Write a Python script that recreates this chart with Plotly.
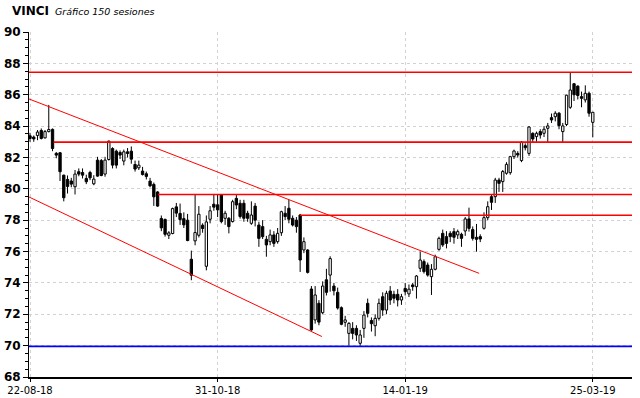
import plotly.graph_objects as go

# ---------------- data ----------------
x_tick_idx = [0, 50, 100, 150]
x_tick_text = ["22-08-18", "31-10-18", "14-01-19", "25-03-19"]
y_ticks = list(range(68, 91, 2))

opens = [83.38, 83.30, 83.40, 83.72, 83.25, 83.65, 83.79, 82.26, 82.30, 80.87,
         80.60, 80.50, 80.13, 81.09, 81.04, 80.66, 81.04, 80.32, 81.83, 81.80,
         80.94, 81.87, 82.57, 82.40, 82.32, 81.77, 82.36, 82.40, 81.55, 81.34,
         81.13, 80.96, 80.49, 80.28, 79.80, 78.11, 78.05, 77.04, 77.15, 78.85,
         78.43, 78.10, 78.00, 75.51, 76.68, 77.04, 77.68, 75.06, 78.06, 79.02,
         78.98, 79.61, 78.12, 78.12, 77.91, 79.39, 79.08, 79.08, 78.44, 77.80,
         78.90, 77.69, 77.59, 76.78, 76.63, 77.06, 76.63, 77.20, 78.44, 78.76,
         78.12, 78.00, 78.33, 76.10, 76.10, 73.61, 71.64, 72.70, 72.10, 74.20,
         74.50, 73.80, 73.40, 72.42, 71.49, 70.78, 71.10, 71.10, 70.15, 71.10,
         72.70, 71.60, 71.27, 71.74, 73.12, 72.27, 73.48, 73.27, 73.27, 72.91,
         73.65, 73.30, 73.87, 73.76, 74.93, 75.36, 75.14, 74.40, 74.87, 76.14,
         77.16, 76.95, 77.16, 77.27, 77.06, 77.10, 77.31, 78.08, 77.40, 76.91,
         76.95, 77.48, 78.16, 79.50, 79.50, 80.56, 80.46, 80.99, 81.03, 82.05,
         82.26, 81.80, 82.75, 82.26, 83.54, 83.33, 83.65, 83.54, 83.86, 84.54,
         84.60, 84.82, 83.65, 84.10, 85.20, 86.70, 86.55, 85.88, 85.67, 86.09,
         84.24]
highs = [83.57, 83.40, 83.75, 83.85, 83.75, 85.35, 83.85, 82.35, 82.35, 80.90,
         80.85, 80.70, 81.20, 81.30, 81.30, 80.90, 81.15, 80.87, 82.04, 81.90,
         82.04, 83.08, 82.65, 82.50, 82.45, 82.50, 82.60, 82.70, 81.80, 81.80,
         81.40, 81.10, 80.70, 80.40, 79.85, 78.30, 78.10, 77.30, 78.80, 79.10,
         79.06, 78.50, 78.40, 76.06, 79.64, 78.90, 77.80, 78.30, 78.90, 79.66,
         79.66, 79.66, 78.60, 78.20, 79.30, 79.60, 79.30, 79.30, 78.60, 79.20,
         79.10, 77.90, 78.00, 77.00, 77.40, 77.30, 77.50, 78.60, 78.90, 79.30,
         78.30, 78.20, 78.40, 76.90, 76.15, 73.80, 73.80, 72.90, 74.10, 74.90,
         75.70, 74.00, 73.70, 72.50, 71.90, 71.50, 71.50, 71.30, 71.00, 72.20,
         73.00, 71.80, 72.00, 73.00, 73.40, 73.50, 73.80, 73.50, 73.60, 73.30,
         74.00, 73.90, 74.00, 74.50, 76.00, 75.50, 75.30, 75.20, 75.80, 76.95,
         77.40, 77.30, 77.30, 77.50, 77.40, 77.20, 78.20, 78.80, 77.60, 77.76,
         77.10, 78.50, 79.20, 79.61, 80.70, 80.70, 81.20, 81.70, 82.10, 82.50,
         82.40, 83.05, 82.90, 84.00, 83.60, 83.65, 83.80, 84.00, 84.20, 84.80,
         84.95, 84.90, 84.20, 86.00, 87.43, 86.75, 86.60, 86.20, 86.60, 86.20,
         84.90]
lows = [83.00, 83.00, 83.10, 83.15, 83.20, 83.60, 82.40, 81.95, 80.50, 79.20,
        79.70, 80.10, 79.64, 80.80, 80.66, 80.30, 80.55, 80.23, 80.77, 80.80,
        80.77, 81.80, 81.30, 81.30, 81.90, 81.50, 82.00, 81.60, 81.10, 81.20,
        80.85, 80.60, 80.10, 78.91, 78.85, 77.30, 76.95, 76.80, 77.10, 78.20,
        77.70, 77.50, 76.66, 74.17, 76.40, 76.90, 77.20, 74.80, 77.80, 78.60,
        78.20, 77.80, 77.70, 77.16, 77.85, 78.70, 78.10, 77.90, 77.90, 77.70,
        77.60, 76.30, 76.80, 75.67, 76.40, 76.30, 76.50, 77.00, 78.00, 77.80,
        77.60, 77.20, 74.70, 75.90, 74.60, 70.95, 71.40, 71.30, 72.00, 73.20,
        73.44, 73.20, 72.30, 71.30, 71.20, 70.00, 70.40, 70.30, 70.00, 70.50,
        71.80, 70.90, 70.60, 71.60, 71.90, 72.00, 72.60, 72.70, 72.50, 72.60,
        73.20, 73.10, 73.50, 73.00, 74.70, 74.60, 74.40, 73.23, 74.80, 76.05,
        76.30, 76.20, 76.60, 76.50, 76.80, 76.30, 77.00, 77.27, 76.70, 75.99,
        76.60, 77.40, 78.00, 78.65, 79.10, 79.80, 79.80, 80.90, 80.90, 81.90,
        82.00, 81.70, 82.45, 82.10, 82.97, 83.00, 83.20, 83.30, 82.97, 84.20,
        84.30, 83.80, 82.97, 84.00, 85.10, 85.60, 85.70, 85.20, 85.50, 84.60,
        83.28]
closes = [83.21, 83.18, 83.62, 83.21, 83.65, 83.78, 82.57, 82.15, 81.09, 79.43,
          80.15, 80.30, 80.94, 80.94, 80.87, 80.45, 80.70, 80.62, 80.81, 80.85,
          81.83, 83.04, 81.51, 81.51, 82.15, 82.36, 82.25, 81.89, 81.26, 81.51,
          80.91, 80.79, 80.19, 79.49, 78.90, 77.51, 77.10, 77.19, 78.74, 78.45,
          78.04, 77.70, 76.70, 74.49, 77.21, 78.38, 77.47, 77.89, 78.60, 78.83,
          78.66, 77.91, 78.44, 77.59, 79.18, 78.97, 78.23, 78.12, 78.12, 78.33,
          78.00, 76.84, 76.95, 76.42, 77.06, 76.52, 77.16, 78.54, 78.23, 78.06,
          77.69, 77.59, 75.46, 76.63, 74.67, 71.00, 73.23, 71.50, 73.80, 73.40,
          75.55, 73.50, 72.40, 71.36, 71.64, 71.42, 70.78, 70.68, 70.68, 71.95,
          72.06, 71.40, 71.74, 72.70, 72.27, 73.34, 72.91, 73.02, 72.91, 73.12,
          73.44, 73.60, 73.76, 74.44, 75.46, 74.72, 74.50, 74.87, 75.67, 76.84,
          76.42, 76.52, 76.95, 76.91, 77.27, 76.84, 78.08, 77.48, 76.84, 76.78,
          76.80, 78.16, 78.86, 79.14, 80.56, 80.35, 81.10, 81.56, 82.05, 82.41,
          82.16, 82.97, 82.62, 83.94, 83.18, 83.54, 83.43, 83.80, 84.01, 84.39,
          84.82, 84.03, 84.01, 85.97, 86.30, 86.00, 85.95, 85.77, 86.09, 84.82,
          84.88]

# horizontal levels (value, first session where the line starts)
red_levels = [87.43, 82.98, 79.64, 78.31]
red_level_start = [-0.27, 6.3, 34.1, 72.0]
blue_level = 69.95
# channel lines (session, value)
upper_trend_x = [-0.27, 119.7]
upper_trend_y = [85.73, 74.61]
lower_trend_x = [-0.27, 77.8]
lower_trend_y = [79.48, 70.58]

X_MIN, X_MAX = -0.27, 160.45

# ---------------- figure ----------------
idx = list(range(len(opens)))
up = [i for i in idx if closes[i] >= opens[i]]
dn = [i for i in idx if closes[i] < opens[i]]

wx, wy = [], []
for i in idx:
    top = max(opens[i], closes[i])
    bot = min(opens[i], closes[i])
    wx += [i, i, None, i, i, None]
    wy += [highs[i], top, None, bot, lows[i], None]

fig = go.Figure()
fig.add_trace(go.Scatter(x=wx, y=wy, mode="lines",
                         line=dict(color="black", width=1),
                         hoverinfo="skip", showlegend=False))
fig.add_trace(go.Bar(x=up, y=[closes[i] - opens[i] for i in up],
                     base=[opens[i] for i in up], width=0.62,
                     marker=dict(color="white", line=dict(color="black", width=1)),
                     showlegend=False))
fig.add_trace(go.Bar(x=dn, y=[opens[i] - closes[i] for i in dn],
                     base=[closes[i] for i in dn], width=0.62,
                     marker=dict(color="black", line=dict(color="black", width=1)),
                     showlegend=False))

shapes = []
for v, s in zip(red_levels, red_level_start):
    shapes.append(dict(type="line", xref="x", yref="y", x0=s, x1=X_MAX, y0=v, y1=v,
                       line=dict(color="#ff0000", width=1.6)))
shapes.append(dict(type="line", xref="x", yref="y", x0=X_MIN, x1=X_MAX,
                   y0=blue_level, y1=blue_level, line=dict(color="#0000ff", width=1.6)))
shapes.append(dict(type="line", xref="x", yref="y", x0=upper_trend_x[0], x1=upper_trend_x[1],
                   y0=upper_trend_y[0], y1=upper_trend_y[1], line=dict(color="#ff0000", width=1)))
shapes.append(dict(type="line", xref="x", yref="y", x0=lower_trend_x[0], x1=lower_trend_x[1],
                   y0=lower_trend_y[0], y1=lower_trend_y[1], line=dict(color="#ff0000", width=1)))

fig.update_layout(
    width=640, height=398,
    margin=dict(l=29, r=8, t=32, b=21, autoexpand=False),
    paper_bgcolor="white", plot_bgcolor="white",
    barmode="overlay", showlegend=False,
    shapes=shapes,
    xaxis=dict(range=[X_MIN, X_MAX], tickmode="array", tickvals=x_tick_idx,
               ticktext=x_tick_text, ticks="outside", ticklen=3, tickcolor="black",
               showline=True, linecolor="black", linewidth=1.5,
               showgrid=True, gridcolor="#d2d2d2", griddash="dot", gridwidth=1,
               zeroline=False, fixedrange=True, automargin=False,
               tickfont=dict(family="DejaVu Sans", size=10, color="black")),
    yaxis=dict(range=[68, 90], tickmode="array", tickvals=y_ticks,
               ticks="outside", ticklen=5, tickcolor="black",
               showline=True, linecolor="black", linewidth=1,
               showgrid=True, gridcolor="#d2d2d2", griddash="dot", gridwidth=1,
               zeroline=False, fixedrange=True, automargin=False,
               minor=dict(dtick=0.5, ticks="outside", ticklen=3, tickcolor="black",
                          showgrid=False),
               tickfont=dict(family="DejaVu Sans", size=12, color="black", weight="bold")),
    annotations=[
        dict(text="VINCI", xref="paper", yref="paper", x=-0.0315, y=1.061,
             xanchor="left", yanchor="middle", showarrow=False,
             font=dict(family="DejaVu Sans", size=12, color="black", weight="bold")),
        dict(text="Gráfico 150 sesiones", xref="paper", yref="paper", x=0.0398, y=1.058,
             xanchor="left", yanchor="middle", showarrow=False,
             font=dict(family="DejaVu Sans", size=9.5, color="black", style="italic")),
    ],
)

fig.write_html("out.html", config={"displayModeBar": False},
               post_script="document.body.style.margin='0';")
